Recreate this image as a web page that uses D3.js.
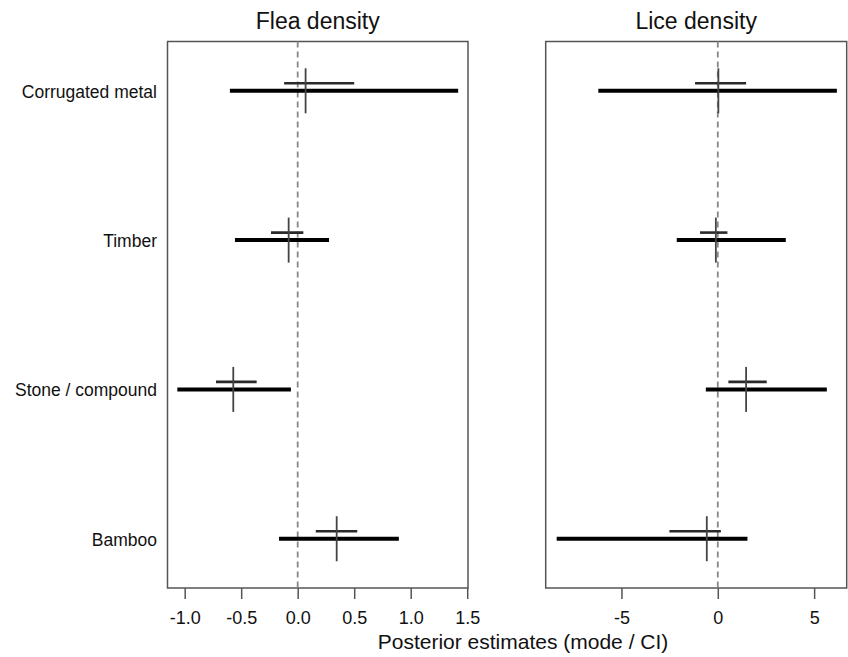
<!DOCTYPE html>
<html>
<head>
<meta charset="utf-8">
<script src="https://cdn.jsdelivr.net/npm/d3@7"></script>
<style>
  body { margin: 0; background: #fff; }
  svg text { font-family: "Liberation Sans", Arial, Helvetica, sans-serif; fill: #111; }
</style>
</head>
<body>
<svg id="chart" width="848" height="657"></svg>
<script>
// categories, top to bottom
let categories = ["Corrugated metal", "Timber", "Stone / compound", "Bamboo"];

// flea density: mode, wide CI (thick), narrow CI (thin)
let fleaMode = [0.07, -0.08, -0.57, 0.345];
let fleaLo = [-0.60, -0.555, -1.065, -0.165];
let fleaHi = [1.42, 0.277, -0.06, 0.895];
let fleaLo2 = [-0.12, -0.236, -0.723, 0.16];
let fleaHi2 = [0.50, 0.05, -0.363, 0.527];

// lice density
let liceMode = [0.03, -0.10, 1.47, -0.57];
let liceLo = [-6.20, -2.13, -0.62, -8.36];
let liceHi = [6.18, 3.53, 5.66, 1.54];
let liceLo2 = [-1.18, -0.92, 0.55, -2.51];
let liceHi2 = [1.47, 0.50, 2.54, 0.16];

let fleaTicks = [-1.0, -0.5, 0.0, 0.5, 1.0, 1.5];
let liceTicks = [-5, 0, 5];

const svg = d3.select("#chart");
const plotTop = 41.5, plotBottom = 588;

let yscale = d3.scalePoint().domain(categories).range([plotTop, plotBottom]).padding(0.33);

// R style labels use a plain hyphen for minus
const hyphen = f => v => f(v).replace("\u2212", "-");

function panel(opts) {
    let xscale = d3.scaleLinear().domain(opts.domain).range([opts.x0, opts.x1]);
    const g = svg.append("g");

    // frame
    g.append("rect")
        .attr("x", opts.x0).attr("y", plotTop)
        .attr("width", opts.x1 - opts.x0).attr("height", plotBottom - plotTop)
        .attr("fill", "none").attr("stroke", "#555").attr("stroke-width", 1.5);

    // zero line
    g.append("line")
        .attr("x1", xscale(0)).attr("x2", xscale(0))
        .attr("y1", plotTop).attr("y2", plotBottom)
        .attr("stroke", "#888").attr("stroke-width", 1.8)
        .attr("stroke-dasharray", "6,4");

    let rows = categories.map((c, i) => ({
        cat: c, mode: opts.mode[i], lo: opts.lo[i], hi: opts.hi[i], lo2: opts.lo2[i], hi2: opts.hi2[i]
    }));

    // wide interval
    g.selectAll(".ci").data(rows).enter().append("line")
        .attr("x1", d => xscale(d.lo)).attr("x2", d => xscale(d.hi))
        .attr("y1", d => yscale(d.cat)).attr("y2", d => yscale(d.cat))
        .attr("stroke", "#000").attr("stroke-width", 4);

    // narrow interval, sits a bit above
    g.selectAll(".ci2").data(rows).enter().append("line")
        .attr("x1", d => xscale(d.lo2)).attr("x2", d => xscale(d.hi2))
        .attr("y1", d => yscale(d.cat) - 7.5).attr("y2", d => yscale(d.cat) - 7.5)
        .attr("stroke", "#2a2a2a").attr("stroke-width", 2.6);

    // mode
    g.selectAll(".mode").data(rows).enter().append("line")
        .attr("x1", d => xscale(d.mode)).attr("x2", d => xscale(d.mode))
        .attr("y1", d => yscale(d.cat) - 22.5).attr("y2", d => yscale(d.cat) + 22.5)
        .attr("stroke", "#444").attr("stroke-width", 1.8);

    // x axis
    let xAxis = d3.axisBottom(xscale).tickValues(opts.ticks)
        .tickFormat(hyphen(opts.fmt)).tickSize(11).tickPadding(12);
    const gx = g.append("g").attr("transform", `translate(0, ${plotBottom})`).call(xAxis);
    gx.select(".domain").remove();
    gx.selectAll(".tick line").attr("stroke", "#555").attr("stroke-width", 1.5);
    gx.selectAll(".tick text").attr("font-size", 18).style("fill", "#111");

    // title
    g.append("text")
        .attr("x", (opts.x0 + opts.x1) / 2).attr("y", 28.5)
        .attr("text-anchor", "middle").attr("font-size", 23)
        .text(opts.title);
}

panel({
    title: "Flea density", x0: 167.5, x1: 468, domain: [-1.152, 1.507],
    mode: fleaMode, lo: fleaLo, hi: fleaHi, lo2: fleaLo2, hi2: fleaHi2,
    ticks: fleaTicks, fmt: d3.format(".1f")
});

panel({
    title: "Lice density", x0: 545.7, x1: 846.7, domain: [-8.93, 6.69],
    mode: liceMode, lo: liceLo, hi: liceHi, lo2: liceLo2, hi2: liceHi2,
    ticks: liceTicks, fmt: d3.format("d")
});

// category labels
svg.append("g").selectAll("text").data(categories).enter().append("text")
    .attr("x", 157).attr("y", d => yscale(d))
    .attr("dy", "0.4em")
    .attr("text-anchor", "end").attr("font-size", 17.5)
    .text(d => d);

// shared x title
svg.append("text")
    .attr("x", 523).attr("y", 649)
    .attr("text-anchor", "middle").attr("font-size", 21)
    .text("Posterior estimates (mode / CI)");
</script>
</body>
</html>
